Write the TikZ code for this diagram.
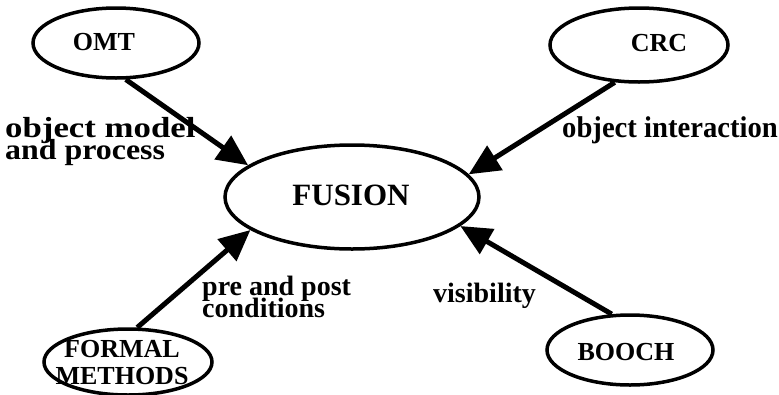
\documentclass[tikz,border=0pt]{standalone}
\usepackage{fontspec}
\setmainfont{Liberation Serif}
\usetikzlibrary{shapes.geometric,arrows.meta}

% tight, fixed line spacing for the two-line texts
\newcommand{\tightlines}{\lineskiplimit=-100pt\lineskip=0pt}

\tikzset{
  blob/.style={ellipse, draw, line width=3.5pt, inner sep=0pt},
  nodetext/.style={anchor=base, inner sep=0pt,
    font=\bfseries\fontsize{26}{27}\selectfont\tightlines},
  edgetext/.style={anchor=base west, inner sep=0pt, align=left,
    font=\bfseries\fontsize{29}{22}\selectfont\tightlines},
  feeds/.style={line width=5pt, -{Triangle[length=31pt,width=28pt]}},
}

\begin{document}
\begin{tikzpicture}[x=1pt, y=-1pt]
  \useasboundingbox (0,0) rectangle (779,394);

  % the method being built and the four methods it draws on
  \node[blob, minimum width=254pt, minimum height=104pt] (fusion) at (352,197) {};
  \node[nodetext, font=\bfseries\fontsize{31}{31}\selectfont] (fusion-t) at (351,205) {FUSION};

  \node[blob, minimum width=166pt, minimum height=70pt] (omt) at (116,43) {};
  \node[nodetext] (omt-t) at (104,50) {OMT};

  \node[blob, minimum width=178pt, minimum height=74pt] (crc) at (639,45) {};
  \node[nodetext] (crc-t) at (659,51) {CRC};

  \node[blob, minimum width=168pt, minimum height=66pt] (formal) at (128,362) {};
  \node[nodetext, align=center] (formal-t) at (122,384) {FORMAL\\METHODS};

  \node[blob, minimum width=166pt, minimum height=70pt] (booch) at (630,350) {};
  \node[nodetext] (booch-t) at (626,360) {BOOCH};

  % contributions
  \draw[feeds] (omt.-75.6) -- (fusion.163.1);
  \draw[feeds] (crc.237.8) -- (fusion.11.3);
  \draw[feeds] (formal.75) -- (fusion.198.9);
  \draw[feeds] (booch.117) -- (fusion.-15.6);

  % what each method contributes (anchored on the last line's baseline)
  \node[edgetext] (lab-omt) at (5,159)
    {\scalebox{1.2}[1]{object model}\\\scalebox{1.1}[1]{and process}};
  \node[edgetext, font=\bfseries\fontsize{30}{22}\selectfont\tightlines] (lab-crc) at (562,137)
    {\scalebox{0.955}[1]{object interaction}};
  \node[edgetext, font=\bfseries\fontsize{28}{22}\selectfont\tightlines] (lab-formal) at (202,317)
    {pre and post\\conditions};
  \node[edgetext, font=\bfseries\fontsize{28}{22}\selectfont\tightlines] (lab-booch) at (433,302)
    {visibility};
\end{tikzpicture}
\end{document}
